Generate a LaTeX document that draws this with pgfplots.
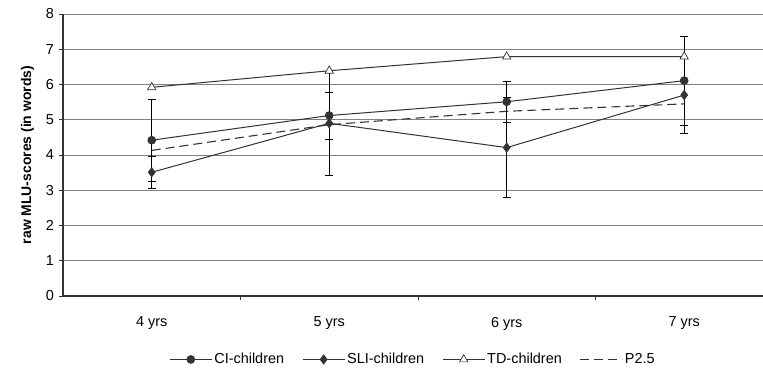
\documentclass[border=0pt]{standalone}
\usepackage{fontspec}
\setmainfont{Liberation Sans}
\usepackage{pgfplots}
\pgfplotsset{compat=1.18}
\definecolor{ln}{HTML}{333333}
\definecolor{gr}{HTML}{7F7F7F}
\begin{document}
\fontsize{14.5}{17}\selectfont
\begin{tikzpicture}
\begin{axis}[
  name=ax,
  scale only axis,
  width=700bp, height=282bp,
  xmin=-0.5, xmax=3.444,
  ymin=0, ymax=8,
  axis x line*=bottom, axis y line*=left,
  axis line style={ln, line width=1.2bp},
  xtick={0,1,2,3},
  xticklabels={4 yrs,5 yrs,6 yrs,7 yrs},
  major x tick style={draw=none},
  minor xtick={0.5,1.5,2.5},
  minor x tick style={ln, line width=0.6bp},
  ytick={0,1,...,8},
  y tick style={ln, line width=0.6bp},
  tick align=outside,
  major tick length=4bp, minor tick length=4bp,
  ymajorgrids,
  major grid style={gr, line width=0.9bp},
  /pgf/number format/assume math mode=true,
  ticklabel style={font=\fontsize{14.5}{17}\selectfont},
  xticklabel style={yshift=-12bp},
  ylabel={\bfseries raw MLU-scores (in words)},
  ylabel style={font=\fontsize{14}{17}\selectfont, yshift=2bp},
  legend columns=4,
  legend style={draw=none, at={(0.5,-0.225)}, anchor=center, font=\fontsize{14.5}{17}\selectfont,
    /tikz/every even column/.append style={column sep=16bp}},
  legend image code/.code={\draw[mark repeat=2,mark phase=2,#1] plot coordinates {(0bp,0bp) (21bp,0bp) (42bp,0bp)};},
  clip=false,
]
\addplot[ln, line width=1bp, mark=*, mark size=3.8bp, mark options={fill=ln, solid},
  error bars/.cd, y dir=both, y explicit, error bar style={black, line width=0.8bp}, error mark options={rotate=90, mark size=4bp, black, line width=0.8bp}]
  coordinates {(0,4.42) +- (0,1.16) (1,5.12) +- (0,0.67) (2,5.51) +- (0,0.58) (3,6.11) +- (0,1.26)};
\addlegendentry{CI-children}
\addplot[ln, line width=1bp, mark=diamond*, mark size=4.4bp, mark options={fill=ln, solid},
  error bars/.cd, y dir=both, y explicit, error bar style={black, line width=0.8bp}, error mark options={rotate=90, mark size=4bp, black, line width=0.8bp}]
  coordinates {(0,3.51) +- (0,0.45) (1,4.9) +- (0,1.47) (2,4.21) +- (0,1.41) (3,5.70) +- (0,1.08)};
\addlegendentry{SLI-children}
\addplot[ln, line width=1bp, mark=triangle*, mark size=4.8bp, mark options={fill=white, draw=ln, line width=0.7bp, solid}]
  coordinates {(0,5.92) (1,6.39) (2,6.79) (3,6.79)};
\addlegendentry{TD-children}
\addplot[ln, line width=1.1bp, dash pattern=on 9bp off 5bp, mark=none]
  coordinates {(0,4.13) (1,4.86) (2,5.24) (3,5.45)};
\addlegendentry{P2.5}
\end{axis}
\pgfresetboundingbox
\useasboundingbox ([xshift=-63bp,yshift=-75bp]ax.south west) rectangle ([yshift=14bp]ax.north east);
\end{tikzpicture}
\end{document}
